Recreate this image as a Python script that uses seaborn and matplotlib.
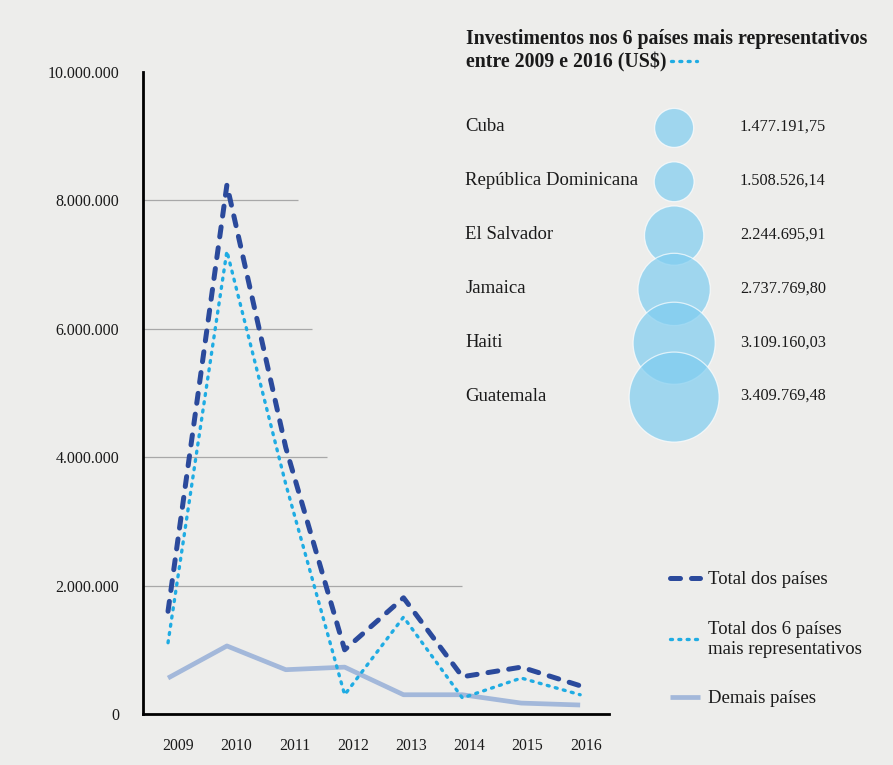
import matplotlib
matplotlib.use("Agg")
import matplotlib.pyplot as plt
from matplotlib.lines import Line2D
import numpy as np
import pandas as pd
import seaborn as sns

# Annual investment series (US$)
anos = ["2009", "2010", "2011", "2012", "2013", "2014", "2015", "2016"]
total_paises = [1.60e6, 8.24e6, 4.15e6, 1.00e6, 1.81e6, 0.58e6, 0.73e6, 0.44e6]
total_6_paises = [1.11e6, 7.21e6, 3.58e6, 0.30e6, 1.51e6, 0.25e6, 0.56e6, 0.30e6]
demais_paises = [0.56e6, 1.06e6, 0.69e6, 0.73e6, 0.30e6, 0.30e6, 0.17e6, 0.14e6]

# Six largest recipients, 2009-2016 (US$)
paises = ["Cuba", "República Dominicana", "El Salvador", "Jamaica", "Haiti", "Guatemala"]
investimentos = [1477191.75, 1508526.14, 2244695.91, 2737769.80, 3109160.03, 3409769.48]
rotulos_valores = ["1.477.191,75", "1.508.526,14", "2.244.695,91",
                   "2.737.769,80", "3.109.160,03", "3.409.769,48"]

y_ticks = [0, 2e6, 4e6, 6e6, 8e6, 10e6]
y_tick_labels = ["0", "2.000.000", "4.000.000", "6.000.000", "8.000.000", "10.000.000"]

BG = "#EDEDEB"
DARK = "#2B4A9C"
CYAN = "#1FACE3"
PALE = "#A3B8DA"
BUBBLE = "#7FCDF0"
TXT = "#1a1a1a"

sns.set_style("white", {"axes.facecolor": BG, "figure.facecolor": BG})
plt.rcParams["font.family"] = ["Liberation Serif", "DejaVu Serif"]
plt.rcParams["text.color"] = TXT

W, H = 893, 765
fig = plt.figure(figsize=(W / 100, H / 100), dpi=100)
fig.patch.set_facecolor(BG)


def fx(px):
    return px / W


def fy(py):
    return 1 - py / H


# ---------------- line chart ----------------
ax = fig.add_axes([fx(143), fy(714), (609 - 143) / W, (714 - 72) / H])
ax.set_facecolor(BG)

df = pd.DataFrame({
    "pos": np.arange(len(anos)),
    "total": total_paises,
    "top6": total_6_paises,
    "demais": demais_paises,
})

X0, X1 = -0.425, 7.49

# horizontal guides, partially covered by the side panel
ax.hlines([2e6, 4e6, 6e6, 8e6], X0, [5.0, 2.7, 2.45, 2.2],
          color="#A8A8A8", lw=0.9, zorder=0)

sns.lineplot(data=df, x="pos", y="demais", ax=ax, color=PALE, lw=3.4,
             solid_capstyle="butt", label="Demais países", zorder=2)
l_demais = ax.lines[-1]
sns.lineplot(data=df, x="pos", y="top6", ax=ax, color=CYAN, lw=2.4,
             label="Total dos 6 países\nmais representativos", zorder=3)
l_top6 = ax.lines[-1]
l_top6.set_dashes((0.6, 1.9))
l_top6.set_dash_capstyle("round")
sns.lineplot(data=df, x="pos", y="total", ax=ax, color=DARK, lw=3.6,
             label="Total dos países", zorder=4)
l_total = ax.lines[-1]
l_total.set_dashes((2.0, 2.2))
l_total.set_dash_capstyle("round")

ax.set_xlim(X0, X1)
ax.set_ylim(0, 10e6)
ax.set_xlabel("")
ax.set_ylabel("")

bordas = np.linspace(X0, X1, len(anos) + 1)
ax.set_xticks(bordas)
ax.set_xticklabels([])
ax.set_xticks((bordas[:-1] + bordas[1:]) / 2 + 0.1, minor=True)
ax.set_xticklabels(anos, minor=True, fontsize=11.3)
ax.tick_params(axis="x", which="major", direction="out", length=9,
               width=0.8, color="#999999")
ax.tick_params(axis="x", which="minor", length=0, pad=17, labelcolor=TXT)

ax.set_yticks(y_ticks)
ax.set_yticklabels(y_tick_labels, fontsize=11.5)
ax.tick_params(axis="y", length=0, pad=17, labelcolor=TXT)

for side in ("top", "right"):
    ax.spines[side].set_visible(False)
for side in ("left", "bottom"):
    ax.spines[side].set_color("black")
    ax.spines[side].set_linewidth(2.0)

leg = ax.legend(handles=[l_total, l_top6, l_demais],
                labels=["Total dos países",
                        "Total dos 6 países\nmais representativos",
                        "Demais países"],
                loc="upper left", bbox_to_anchor=(fx(670), fy(571)),
                bbox_transform=fig.transFigure, frameon=False,
                fontsize=13.5, handlelength=1.6, handletextpad=0.45,
                labelspacing=1.75, borderpad=0, borderaxespad=0)
for t in leg.get_texts():
    t.set_color(TXT)

# ---------------- bubble panel ----------------
axb = fig.add_axes([fx(460), fy(424), (890 - 460) / W, (424 - 101) / H])
axb.set_xlim(0, 1)
axb.set_ylim(len(paises) - 0.5, -0.5)
axb.axis("off")

tamanhos = [(19.0 * v / 1e6) ** 2 for v in investimentos]
idx = np.arange(len(paises))
axb.scatter(np.full(len(paises), 0.498), idx, s=tamanhos, color=BUBBLE,
            alpha=0.7, edgecolors="white", linewidths=0.9, zorder=2,
            clip_on=False)

for i, (nome, val) in enumerate(zip(paises, rotulos_valores)):
    axb.text(0.012, i - 0.02, nome, fontsize=13.5, va="center", ha="left", color=TXT)
    axb.text(0.651, i - 0.02, val, fontsize=11.7, va="center", ha="left", color=TXT)

# ---------------- title ----------------
fig.text(fx(466), fy(39), "Investimentos nos 6 países mais representativos",
         fontsize=14.3, fontweight="bold", va="center", ha="left", color=TXT)
t2 = fig.text(fx(466), fy(62), "entre 2009 e 2016 (US$)",
              fontsize=14.3, fontweight="bold", va="center", ha="left", color=TXT)
fig.canvas.draw()
bb = t2.get_window_extent()
x0 = bb.x1 + 4
sample = Line2D([x0 / W, (x0 + 26) / W], [fy(61), fy(61)],
                transform=fig.transFigure, color=CYAN, lw=2.4)
sample.set_dashes((0.6, 1.9))
sample.set_dash_capstyle("round")
fig.add_artist(sample)

fig.savefig("out.png", dpi=100, facecolor=BG)
